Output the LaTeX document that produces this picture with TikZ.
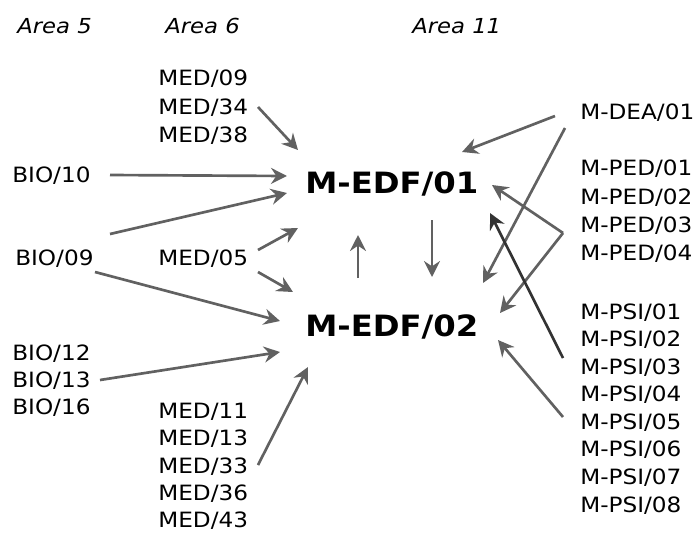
\documentclass[tikz,border=0pt]{standalone}
\usepackage{fontspec}
\setmainfont{DejaVu Sans}[FakeStretch=1.1]
\usetikzlibrary{arrows.meta}
\definecolor{arrgray}{rgb}{0.38,0.38,0.38}
\definecolor{arrdark}{rgb}{0.2,0.2,0.2}
\begin{document}
\begin{tikzpicture}[x=0.75pt,y=-0.75pt,
  lab/.style={anchor=base west,inner sep=0pt,font=\fontsize{15.8pt}{18pt}\selectfont},
  hdr/.style={anchor=base west,inner sep=0pt,font=\fontsize{15.5pt}{18pt}\selectfont\itshape},
  big/.style={anchor=base west,inner sep=0pt,font=\fontsize{22pt}{26pt}\selectfont\bfseries},
  arr/.style={draw=arrgray,line width=2pt,-{Stealth[length=12pt,width=12pt,inset=4pt]}},
  arrd/.style={arr,draw=arrdark}]
\useasboundingbox (0,0) rectangle (696,533);
% headers
\node[hdr] (a5) at (17,33) {Area 5};
\node[hdr] (a6) at (165,33) {Area 6};
\node[hdr] (a11) at (412,33) {Area 11};
% area 6 top
\node[lab] (med09) at (158,85.5) {MED/09};
\node[lab] (med34) at (158,114.5) {MED/34};
\node[lab] (med38) at (158,142.5) {MED/38};
% area 5
\node[lab] (bio10) at (12,182.5) {BIO/10};
\node[lab] (bio09) at (15,265.5) {BIO/09};
\node[lab] (med05) at (158,265.5) {MED/05};
\node[lab] (bio12) at (12,360.5) {BIO/12};
\node[lab] (bio13) at (12,387.5) {BIO/13};
\node[lab] (bio16) at (12,414.5) {BIO/16};
\node[lab] (med11) at (158,418.5) {MED/11};
\node[lab] (med13) at (158,445.5) {MED/13};
\node[lab] (med33) at (158,473.5) {MED/33};
\node[lab] (med36) at (158,500.5) {MED/36};
\node[lab] (med43) at (158,527.5) {MED/43};
% centre
\node[big] (edf1) at (305,193) {M-EDF/01};
\node[big] (edf2) at (305,336) {M-EDF/02};
% area 11 right
\node[lab] (dea) at (580,119.5) {M-DEA/01};
\node[lab] (ped01) at (580,175.5) {M-PED/01};
\node[lab] (ped02) at (580,204.5) {M-PED/02};
\node[lab] (ped03) at (580,232.5) {M-PED/03};
\node[lab] (ped04) at (580,260.5) {M-PED/04};
\node[lab] (psi01) at (580,319.5) {M-PSI/01};
\node[lab] (psi02) at (580,346.5) {M-PSI/02};
\node[lab] (psi03) at (580,374.5) {M-PSI/03};
\node[lab] (psi04) at (580,401.5) {M-PSI/04};
\node[lab] (psi05) at (580,429.5) {M-PSI/05};
\node[lab] (psi06) at (580,456.5) {M-PSI/06};
\node[lab] (psi07) at (580,484.5) {M-PSI/07};
\node[lab] (psi08) at (580,512.5) {M-PSI/08};
% arrows left
\draw[arr] ([shift={(100,-7.5)}]med34.base west) -- ([shift={(-7,-43)}]edf1.base west);
\draw[arr] ([shift={(98,-7.5)}]bio10.base west) -- ([shift={(-18,-17)}]edf1.base west);
\draw[arr] ([shift={(95,-31.5)}]bio09.base west) -- ([shift={(-18,0)}]edf1.base west);
\draw[arr] ([shift={(100,-15.5)}]med05.base west) -- ([shift={(-7,35)}]edf1.base west);
\draw[arr] ([shift={(100,6.5)}]med05.base west) -- ([shift={(-12,-44)}]edf2.base west);
\draw[arr] ([shift={(80,6.5)}]bio09.base west) -- ([shift={(-25,-15)}]edf2.base west);
\draw[arr] ([shift={(88,-7.5)}]bio13.base west) -- ([shift={(-25,16)}]edf2.base west);
\draw[arr] ([shift={(100,-8.5)}]med33.base west) -- ([shift={(3,31)}]edf2.base west);
% between centres
\draw[arr] ([shift={(53,-58)}]edf2.base west) -- ([shift={(53,42)}]edf1.base west);
\draw[arr] ([shift={(127,27)}]edf1.base west) -- ([shift={(127,-59)}]edf2.base west);
% arrows right
\draw[arr] ([shift={(-25,-3.5)}]dea.base west) -- ([shift={(157,-41)}]edf1.base west);
\draw[arr] ([shift={(-15,8.5)}]dea.base west) -- ([shift={(178,-53)}]edf2.base west);
\draw[arr] ([shift={(-17,0.5)}]ped03.base west) -- ([shift={(187,-8)}]edf1.base west);
\draw[arr] ([shift={(-17,0.5)}]ped03.base west) -- ([shift={(195,-23)}]edf2.base west);
\draw[arrd] ([shift={(-17,-16.5)}]psi03.base west) -- ([shift={(185,20)}]edf1.base west);
\draw[arr] ([shift={(-17,-12.5)}]psi05.base west) -- ([shift={(193,4)}]edf2.base west);
\end{tikzpicture}
\end{document}
